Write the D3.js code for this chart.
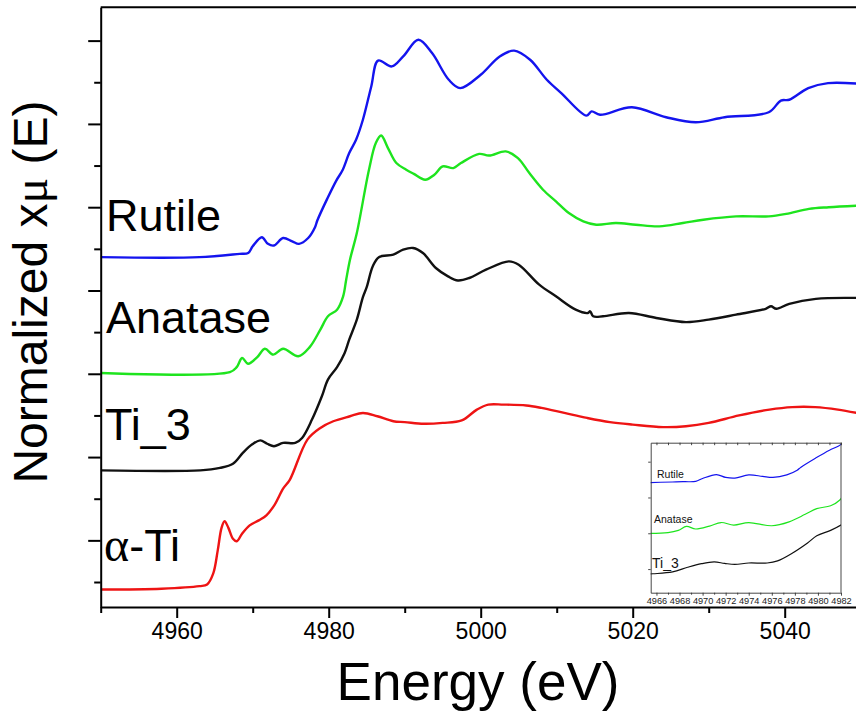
<!DOCTYPE html>
<html>
<head>
<meta charset="utf-8">
<script src="https://cdn.jsdelivr.net/npm/d3@7"></script>
<style>
  body { margin: 0; background: #fff; }
  svg { display: block; font-family: 'Liberation Sans', Arial, sans-serif; }
</style>
</head>
<body>
<svg id="chart"></svg>
<script>
// spectra (energy in eV, stacked normalised absorption)
const rutileE = [4950, 4963, 4968.3, 4969.4, 4970.0, 4971.2, 4972.0, 4972.8, 4974.0, 4975.2, 4976.1, 4977.3, 4978.2, 4978.5, 4979.8, 4981.0, 4981.8, 4982.7, 4983.6, 4984.5, 4985.6, 4986.5, 4988.3, 4989.8, 4991.8, 4993.6, 4995.8, 4997.3, 5000.0, 5002.5, 5004.4, 5006.5, 5008.7, 5010.6, 5013.9, 5014.6, 5015.7, 5019.9, 5024.4, 5028.3, 5032.1, 5037.9, 5039.5, 5040.6, 5043.1, 5045.7, 5050];
const rutileMu = [3.40, 3.40, 3.44, 3.45, 3.53, 3.64, 3.56, 3.54, 3.63, 3.59, 3.56, 3.63, 3.76, 3.84, 4.10, 4.32, 4.44, 4.65, 4.81, 5.05, 5.45, 5.76, 5.69, 5.81, 6.01, 5.85, 5.53, 5.43, 5.59, 5.81, 5.88, 5.77, 5.53, 5.37, 5.10, 5.15, 5.11, 5.20, 5.08, 5.02, 5.08, 5.14, 5.28, 5.29, 5.43, 5.49, 5.48];

const anataseE = [4950, 4967.0, 4967.9, 4968.6, 4969.4, 4970.6, 4971.6, 4972.7, 4974.0, 4976.0, 4977.5, 4978.9, 4979.9, 4981.1, 4981.9, 4982.3, 4982.8, 4983.7, 4985.3, 4986.2, 4986.9, 4987.8, 4988.9, 4990.2, 4991.2, 4992.7, 4993.9, 4995.0, 4996.4, 4997.4, 4999.8, 5001.1, 5003.3, 5004.9, 5006.4, 5008.2, 5009.9, 5011.6, 5013.5, 5015.2, 5017.8, 5020.4, 5023.5, 5026.6, 5029.3, 5033.6, 5037.9, 5040.2, 5043.2, 5045.8, 5050];
const anataseMu = [2.01, 2.02, 2.08, 2.19, 2.12, 2.20, 2.30, 2.23, 2.30, 2.21, 2.32, 2.53, 2.69, 2.77, 2.93, 3.13, 3.37, 3.69, 4.45, 4.77, 4.86, 4.71, 4.53, 4.45, 4.40, 4.33, 4.39, 4.49, 4.47, 4.53, 4.64, 4.62, 4.67, 4.59, 4.41, 4.21, 4.07, 3.93, 3.83, 3.79, 3.81, 3.79, 3.77, 3.81, 3.85, 3.89, 3.89, 3.92, 3.98, 4.00, 4.02];

const ti3E = [4950, 4963.1, 4965.7, 4967.4, 4968.7, 4969.9, 4971.0, 4971.9, 4972.8, 4974.0, 4975.6, 4976.5, 4977.8, 4979.1, 4979.9, 4981.1, 4982.1, 4982.7, 4983.7, 4984.5, 4985.0, 4985.8, 4986.6, 4988.5, 4989.8, 4991.1, 4992.4, 4994.1, 4995.7, 4997.0, 4998.5, 5000.7, 5003.7, 5005.0, 5007.7, 5009.9, 5012.5, 5014.1, 5014.4, 5014.8, 5016.1, 5019.5, 5023.1, 5027.0, 5030.0, 5033.6, 5037.5, 5038.2, 5038.9, 5040.6, 5044.1, 5050];
const ti3Mu = [0.84, 0.84, 0.87, 0.92, 1.05, 1.15, 1.20, 1.16, 1.13, 1.17, 1.17, 1.23, 1.45, 1.73, 1.93, 2.08, 2.25, 2.41, 2.65, 2.92, 3.04, 3.29, 3.40, 3.43, 3.49, 3.51, 3.45, 3.27, 3.17, 3.12, 3.15, 3.25, 3.35, 3.31, 3.07, 2.93, 2.77, 2.73, 2.75, 2.69, 2.69, 2.73, 2.67, 2.62, 2.65, 2.71, 2.78, 2.81, 2.78, 2.84, 2.90, 2.91];

const alphaE = [4950, 4958, 4963, 4964.0, 4964.8, 4965.4, 4965.9, 4966.3, 4966.8, 4967.4, 4967.9, 4968.6, 4969.6, 4970.8, 4971.8, 4972.9, 4974.0, 4974.9, 4977.2, 4978.9, 4980.6, 4982.8, 4984.5, 4986.4, 4988.5, 4990.0, 4992.5, 4995.0, 4997.5, 4999.5, 5001.0, 5003.0, 5006.0, 5008.0, 5011.0, 5014.0, 5017.0, 5020.0, 5024.0, 5027.0, 5030.0, 5034.0, 5038.0, 5041.0, 5044.0, 5047.0, 5050];
const alphaMu = [-0.59, -0.58, -0.55, -0.53, -0.40, -0.12, 0.15, 0.23, 0.15, 0.02, -0.01, 0.08, 0.18, 0.24, 0.30, 0.43, 0.62, 0.73, 1.21, 1.35, 1.43, 1.49, 1.53, 1.49, 1.43, 1.42, 1.40, 1.41, 1.44, 1.57, 1.63, 1.63, 1.62, 1.59, 1.53, 1.47, 1.42, 1.39, 1.36, 1.37, 1.41, 1.50, 1.57, 1.60, 1.60, 1.57, 1.52];

const xMajorTicks = [4960, 4980, 5000, 5020, 5040];
const xMinorTicks = [4950, 4970, 4990, 5010, 5030, 5050];
const yMajorTicks = [0, 1, 2, 3, 4, 5, 6];
const yMinorTicks = [-0.5, 0.5, 1.5, 2.5, 3.5, 4.5, 5.5];
const insetTicks = [4966, 4968, 4970, 4972, 4974, 4976, 4978, 4980, 4982];
const insetMinorTicks = [4967, 4969, 4971, 4973, 4975, 4977, 4979, 4981];
const insetYTicks = [1, 2, 3, 4];

const series = [
    { name: 'Rutile', e: rutileE, mu: rutileMu, color: '#1414ee', inset: true },
    { name: 'Anatase', e: anataseE, mu: anataseMu, color: '#1ee41e', inset: true },
    { name: 'Ti_3', e: ti3E, mu: ti3Mu, color: '#111111', inset: true },
    { name: 'α-Ti', e: alphaE, mu: alphaMu, color: '#ee1414', inset: false }
];

const width = 856;
const height = 720;
const plot = { left: 100.7, right: 860.7, top: 7.3, bottom: 607 };

const svg = d3.select('#chart')
    .attr('width', width)
    .attr('height', height);

const x = d3.scaleLinear().domain([4950, 5050]).range([plot.left, plot.right]);
const y = d3.scaleLinear().domain([-0.8, 6.4]).range([plot.bottom, plot.top]);

svg.append('defs').append('clipPath')
    .attr('id', 'plotClip')
  .append('rect')
    .attr('x', plot.left)
    .attr('y', plot.top)
    .attr('width', plot.right - plot.left)
    .attr('height', plot.bottom - plot.top);

const line = d3.line()
    .x(d => x(d[0]))
    .y(d => y(d[1]))
    .curve(d3.curveCatmullRom.alpha(0.5));

svg.append('g')
    .attr('clip-path', 'url(#plotClip)')
  .selectAll('path')
    .data(series)
    .join('path')
      .attr('fill', 'none')
      .attr('stroke', d => d.color)
      .attr('stroke-width', 2.4)
      .attr('stroke-linejoin', 'round')
      .attr('d', d => line(d.e.map((v, i) => [v, d.mu[i]])));

// axes
const xAxis = svg.append('g')
    .attr('transform', `translate(0,${plot.bottom})`)
    .call(d3.axisBottom(x).tickValues(xMajorTicks).tickSize(11).tickSizeOuter(0).tickPadding(5).tickFormat(d3.format('d')));
xAxis.selectAll('text')
    .attr('font-size', 23)
    .attr('font-family', 'Liberation Sans, Arial, sans-serif')
    .attr('fill', '#000');

svg.append('g')
    .attr('transform', `translate(0,${plot.bottom})`)
    .call(d3.axisBottom(x).tickValues(xMinorTicks).tickSize(6).tickFormat(''))
    .call(g => g.select('.domain').remove());

svg.append('g')
    .attr('transform', `translate(${plot.left},0)`)
    .call(d3.axisLeft(y).tickValues(yMajorTicks).tickSize(12.5).tickSizeOuter(0).tickFormat(''));

svg.append('g')
    .attr('transform', `translate(${plot.left},0)`)
    .call(d3.axisLeft(y).tickValues(yMinorTicks).tickSize(6.5).tickFormat(''))
    .call(g => g.select('.domain').remove());

svg.append('line')
    .attr('x1', plot.left)
    .attr('x2', plot.right)
    .attr('y1', plot.top)
    .attr('y2', plot.top)
    .attr('stroke', '#000')
    .attr('stroke-width', 2);

svg.selectAll('.domain, .tick line')
    .attr('stroke', '#000')
    .attr('stroke-width', 2);

// series names on the left
const labelPos = [[106, 231], [106, 333], [105, 440], [104, 561]];
svg.append('g')
  .selectAll('text')
    .data(series)
    .join('text')
      .attr('x', (d, i) => labelPos[i][0])
      .attr('y', (d, i) => labelPos[i][1])
      .attr('font-size', 45)
      .attr('fill', '#000')
      .each(function(d) {
          const t = d3.select(this);
          if (d.name.startsWith('α')) {
              t.append('tspan').attr('font-family', 'Liberation Serif, serif').attr('font-size', 48).text('α');
              t.append('tspan').text(d.name.slice(1));
          } else {
              t.text(d.name);
          }
      });

// axis titles
const yTitle = svg.append('text')
    .attr('transform', 'translate(47,292) rotate(-90)')
    .attr('text-anchor', 'middle')
    .attr('font-size', 48)
    .attr('fill', '#000');
yTitle.append('tspan').text('Normalized x');
yTitle.append('tspan').attr('font-family', 'Liberation Serif, serif').text('μ');
yTitle.append('tspan').text(' (E)');

svg.append('text')
    .attr('x', 478)
    .attr('y', 700)
    .attr('text-anchor', 'middle')
    .attr('font-size', 53)
    .attr('fill', '#000')
    .text('Energy (eV)');

// inset: zoom on the pre-edge region
const inset = { left: 650.7, right: 841, top: 442.7, bottom: 592.7 };
const ix = d3.scaleLinear().domain([4965.5, 4982]).range([inset.left, inset.right]);
const iy = d3.scaleLinear().domain([0.34, 4.53]).range([inset.bottom, inset.top]);

const insetG = svg.append('g');
insetG.append('rect')
    .attr('x', inset.left)
    .attr('y', inset.top)
    .attr('width', inset.right - inset.left)
    .attr('height', inset.bottom - inset.top)
    .attr('fill', '#fff');

svg.select('defs').append('clipPath')
    .attr('id', 'insetClip')
  .append('rect')
    .attr('x', inset.left)
    .attr('y', inset.top)
    .attr('width', inset.right - inset.left)
    .attr('height', inset.bottom - inset.top);

const insetLine = d3.line()
    .x(d => ix(d[0]))
    .y(d => iy(d[1]))
    .curve(d3.curveCatmullRom.alpha(0.5));

insetG.append('g')
    .attr('clip-path', 'url(#insetClip)')
  .selectAll('path')
    .data(series.filter(d => d.inset))
    .join('path')
      .attr('fill', 'none')
      .attr('stroke', d => d.color)
      .attr('stroke-width', 1.2)
      .attr('d', d => insetLine(d.e.map((v, i) => [v, d.mu[i]])));

const ixAxis = insetG.append('g')
    .attr('transform', `translate(0,${inset.bottom})`)
    .call(d3.axisBottom(ix).tickValues(insetTicks).tickSize(3).tickSizeOuter(0).tickPadding(2).tickFormat(d3.format('d')));
ixAxis.selectAll('text')
    .attr('font-size', 9.2)
    .attr('fill', '#222');

insetG.append('g')
    .attr('transform', `translate(0,${inset.bottom})`)
    .call(d3.axisBottom(ix).tickValues(insetMinorTicks).tickSize(2).tickFormat(''))
    .call(g => g.select('.domain').remove());

insetG.append('g')
    .attr('transform', `translate(0,${inset.top})`)
    .call(d3.axisBottom(ix).tickValues(insetTicks.concat(insetMinorTicks)).tickSize(2.5).tickSizeOuter(0).tickFormat(''));

insetG.append('g')
    .attr('transform', `translate(${inset.left},0)`)
    .call(d3.axisLeft(iy).tickValues(insetYTicks).tickSize(2.5).tickSizeOuter(0).tickFormat(''));

insetG.append('line')
    .attr('x1', inset.right)
    .attr('x2', inset.right)
    .attr('y1', inset.top)
    .attr('y2', inset.bottom);

insetG.selectAll('.domain, .tick line, line')
    .attr('stroke', '#333')
    .attr('stroke-width', 0.9);

const insetLabelPos = [[657, 478], [654, 522.5], [652, 568]];
const insetLabelSize = [10.5, 10.5, 14];
insetG.selectAll('text.ilabel')
    .data(series.filter(d => d.inset))
    .join('text')
      .attr('class', 'ilabel')
      .attr('x', (d, i) => insetLabelPos[i][0])
      .attr('y', (d, i) => insetLabelPos[i][1])
      .attr('font-size', (d, i) => insetLabelSize[i])
      .attr('fill', '#111')
      .text(d => d.name);
</script>
</body>
</html>
